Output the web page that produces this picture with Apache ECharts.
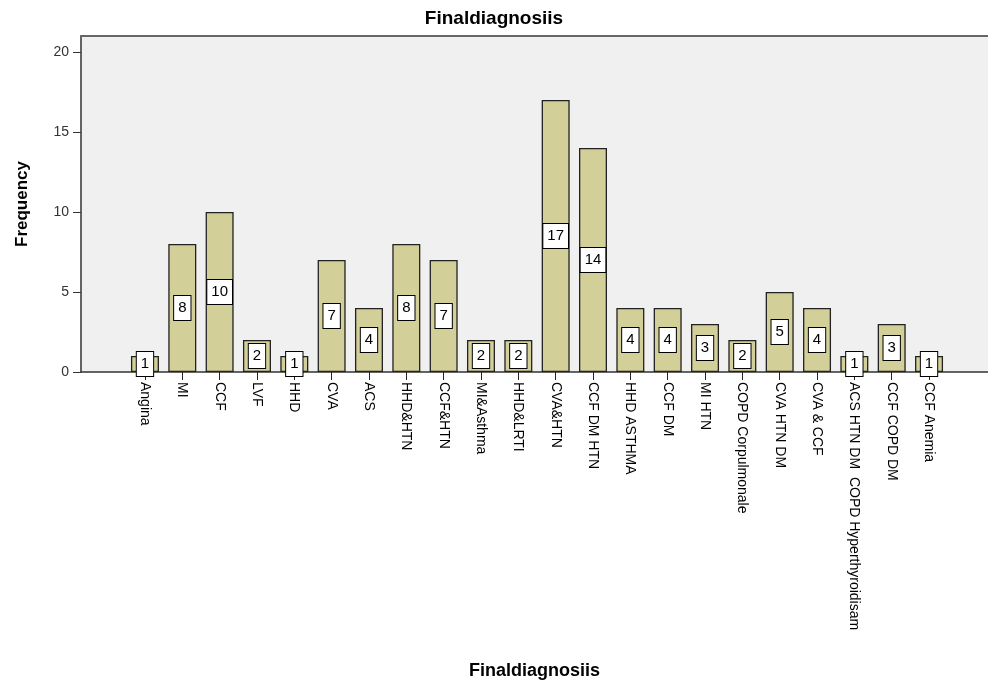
<!DOCTYPE html>
<html>
<head>
<meta charset="utf-8">
<script src="https://cdn.jsdelivr.net/npm/echarts@6/dist/echarts.min.js"></script>
<style>
  html, body { margin: 0; padding: 0; background: #fff; }
  #main { width: 988px; height: 683px; }
</style>
</head>
<body>
<div id="main"></div>
<script>
// diagnosis categories and their counts
var categories = ['Angina', 'MI', 'CCF', 'LVF', 'HHD', 'CVA', 'ACS', 'HHD&HTN', 'CCF&HTN',
  'MI&Asthma', 'HHD&LRTI', 'CVA&HTN', 'CCF DM HTN', 'HHD ASTHMA', 'CCF DM', 'MI HTN',
  'COPD Corpulmonale', 'CVA HTN DM', 'CVA & CCF', 'ACS HTN DM  COPD Hyperthyroidisam',
  'CCF COPD DM', 'CCF Anemia'];
var counts = [1, 8, 10, 2, 1, 7, 4, 8, 7, 2, 2, 17, 14, 4, 4, 3, 2, 5, 4, 1, 3, 1];
var yTicks = [0, 5, 10, 15, 20];

var font = 'Liberation Sans, Arial, sans-serif';
var chart = echarts.init(document.getElementById('main'));

var option = {
  backgroundColor: '#ffffff',
  animation: false,
  title: {
    text: 'Finaldiagnosiis',
    left: 'center',
    top: 4,
    textStyle: { fontFamily: font, fontSize: 19, fontWeight: 'bold', color: '#000' }
  },
  grid: [
    // frame / background
    { left: 81, right: 0, top: 36, bottom: 311, show: true, backgroundColor: '#f0f0f0', borderWidth: 0 },
    // bars
    { left: 126.3, right: 40.3, top: 36, bottom: 311 }
  ],
  xAxis: [
    {
      gridIndex: 0, type: 'value', position: 'top', min: 0, max: 1,
      axisLine: { show: true, onZero: false, lineStyle: { color: '#666', width: 2 } },
      axisTick: { show: false }, axisLabel: { show: false }, splitLine: { show: false }
    },
    {
      gridIndex: 0, type: 'value', position: 'bottom', min: 0, max: 1,
      name: 'Finaldiagnosiis', nameLocation: 'middle', nameGap: 290,
      nameTextStyle: { fontFamily: font, fontSize: 18, fontWeight: 'bold', color: '#000' },
      axisLine: { show: true, onZero: false, lineStyle: { color: '#333', width: 1.5 } },
      axisTick: { show: false }, axisLabel: { show: false }, splitLine: { show: false }
    },
    {
      gridIndex: 1, type: 'category', data: categories, position: 'bottom',
      axisLine: { show: false },
      axisTick: { show: true, alignWithLabel: true, length: 8, lineStyle: { color: '#222' } },
      axisLabel: {
        interval: 0, rotate: -90, margin: 10,
        fontFamily: font, fontSize: 14, color: '#000'
      }
    }
  ],
  yAxis: [
    {
      gridIndex: 0, type: 'value', min: 0, max: 21,
      name: 'Frequency', nameLocation: 'middle', nameGap: 50,
      nameTextStyle: { fontFamily: font, fontSize: 17, fontWeight: 'bold', color: '#000' },
      axisLine: { show: true, lineStyle: { color: '#333', width: 1.5 } },
      axisTick: { show: true, length: 8, customValues: yTicks, lineStyle: { color: '#333' } },
      axisLabel: { customValues: yTicks, fontFamily: font, fontSize: 14, color: '#333', margin: 12 },
      splitLine: { show: false }
    },
    {
      gridIndex: 1, type: 'value', min: 0, max: 21, show: false,
      splitLine: { show: false }
    }
  ],
  series: [
    {
      type: 'bar',
      xAxisIndex: 2,
      yAxisIndex: 1,
      data: counts,
      barWidth: 28,
      itemStyle: { color: '#d3cf98', borderColor: '#222', borderWidth: 1.3 },
      label: {
        show: true,
        position: 'inside',
        fontFamily: font,
        fontSize: 15,
        color: '#000',
        backgroundColor: '#ffffff',
        borderColor: '#000',
        borderWidth: 1,
        padding: [5, 4, 4, 4]
      }
    }
  ]
};
chart.setOption(option);
</script>
</body>
</html>
